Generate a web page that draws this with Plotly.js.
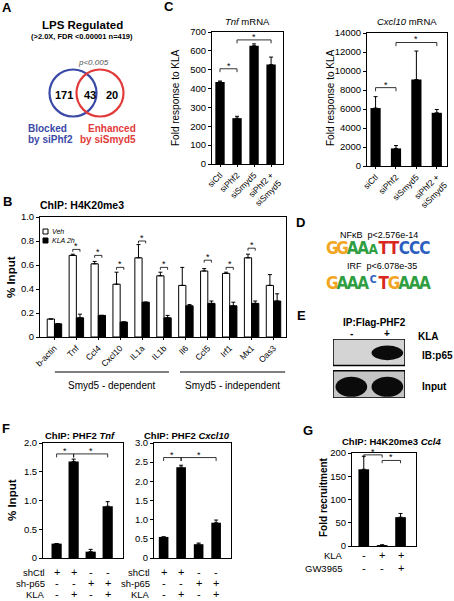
<!DOCTYPE html>
<html><head><meta charset="utf-8">
<script src="https://cdn.plot.ly/plotly-3.0.1.min.js"></script>
<style>html,body{margin:0;padding:0;background:#fff}#chart{width:454px;height:601px}</style>
</head><body><div id="chart"></div>
<script>
// ---------------- DATA ----------------
// Panel A (Venn counts: blocked by siPhf2 only, overlap, enhanced by siSmyd5 only)
const vennCounts = [171, 43, 20];

// Panel C
const cCategories = ['siCtl', 'siPhf2', 'siSmyd5', 'siPhf2 +<br>siSmyd5'];
const tnfMrna = [435, 243, 627, 527];
const tnfMrnaErr = [5, 10, 10, 40];
const tnfSig = [[0, 1, 505], [1, 3, 658]];
const cxcl10Mrna = [6100, 1850, 9100, 5600];
const cxcl10MrnaErr = [1200, 300, 3000, 350];
const cxcl10Sig = [[0, 1, 8250], [1, 3, 13000]];

// Panel B
const bGenes = ['b-actin', 'Tnf', 'Ccl4', 'Cxcl10', 'IL1a', 'IL1b', 'Il6', 'Ccl5', 'Irf1', 'Mx1', 'Oas3'];
const bVeh = [0.15, 0.68, 0.61, 0.44, 0.66, 0.51, 0.43, 0.55, 0.53, 0.66, 0.43];
const bVehErr = [0, 0.01, 0.02, 0.10, 0.11, 0.03, 0.15, 0.02, 0.01, 0.03, 0.09];
const bKla = [0.11, 0.16, 0.18, 0.125, 0.29, 0.16, 0.26, 0.28, 0.26, 0.28, 0.30];
const bKlaErr = [0, 0.03, 0, 0, 0, 0.02, 0.01, 0.02, 0.03, 0.02, 0.06];
const bSigGenes = ['Tnf', 'Ccl4', 'Cxcl10', 'IL1a', 'IL1b', 'Ccl5', 'Irf1', 'Mx1'];
const bSigLevel = [0.73, 0.68, 0.58, 0.80, 0.58, 0.64, 0.58, 0.74];
const bGroups = ['Smyd5 - dependent', 'Smyd5 - independent'];

// Panel D (motif logos)
const nfkbLogo = ['G', 'G', 'A', 'A', 'A', 'T', 'T', 'C', 'C', 'C'];
const nfkbLogoScale = [1, 1, 1, 1, 0.8, 1, 1, 1, 1, 1];
const irfLogo = ['G', 'A', 'A', 'A', 'C', 'T', 'G', 'A', 'A', 'A'];
const irfLogoScale = [1, 1, 1, 1, 0.62, 1, 1, 1, 1, 1];

// Panel E (blot band intensities, lanes: KLA -, +)
const blotLanes = ['-', '+'];
const blotP65 = [0, 1];
const blotInput = [1, 1];

// Panel F
const fShCtl = ['+', '+', '-', '-'];
const fShP65 = ['-', '-', '+', '+'];
const fKla = ['-', '+', '-', '+'];
const fTnf = [0.25, 1.68, 0.11, 0.90];
const fTnfErr = [0, 0.04, 0.04, 0.08];
const fTnfSig = [[0, 1, 1.81], [1, 3, 1.81]];
const fCxcl10 = [0.55, 2.37, 0.36, 0.92];
const fCxcl10Err = [0, 0.05, 0.03, 0.07];
const fCxcl10Sig = [[0, 1, 2.62], [1, 3, 2.62]];

// Panel G
const gKla = ['-', '+', '+'];
const gGw = ['-', '-', '+'];
const gVals = [165, 2, 62];
const gErr = [28, 0.5, 8];
const gSig = [[0, 1, 196], [1, 2, 184]];

// ---------------- HELPERS ----------------
const W = 454, H = 601;
const FONT = 'Liberation Sans, Arial, Helvetica, sans-serif';
const LOGOFONT = 'DejaVu Sans Condensed, Liberation Sans Narrow, DejaVu Sans, sans-serif';
const px = v => v / W;
const py = v => 1 - v / H;
const dom = (a, b) => [a / W, b / W];
const vdom = (top, bottom) => [1 - bottom / H, 1 - top / H];
const idx = arr => arr.map((_, i) => i);

function axisBase(extra) {
  return Object.assign({
    showline: true, mirror: true, linecolor: '#000', linewidth: 1,
    ticks: 'outside', ticklen: 3, tickwidth: 1, tickcolor: '#000',
    showgrid: false, zeroline: false, fixedrange: true,
    exponentformat: 'none', separatethousands: false,
    tickfont: {family: FONT, size: 9.5, color: '#000'}
  }, extra);
}
function errY(arr) {
  return {type: 'data', array: arr, arrayminus: arr.map(() => 0), symmetric: false,
          visible: true, color: '#000', thickness: 1, width: 2};
}
const annotations = [];
const shapes = [];
function txt(x, y, text, size, o) {
  annotations.push(Object.assign({
    x: px(x), y: py(y), xref: 'paper', yref: 'paper', text: text, showarrow: false,
    xanchor: 'center', yanchor: 'middle',
    font: {family: FONT, size: size || 10, color: (o && o.color) || '#000'}
  }, o || {}));
}
function sigMarks(sig, xa, ya, drop, xpos, traces) {
  const xs = [], ys = [];
  sig.forEach(([a, b, h]) => {
    const xa_ = xpos(a, 'a'), xb_ = xpos(b, 'b');
    xs.push(xa_, xa_, xb_, xb_, null);
    ys.push(h - drop, h, h, h - drop, null);
    annotations.push({x: (xa_ + xb_) / 2, y: h, xref: xa, yref: ya, text: '*', showarrow: false,
      xanchor: 'center', yanchor: 'bottom', yshift: -3, borderpad: 0,
      font: {family: FONT, size: 9, color: '#000'}});
  });
  traces.push({type: 'scatter', mode: 'lines', x: xs, y: ys, xaxis: xa, yaxis: ya,
    line: {color: '#000', width: 0.8}, showlegend: false, hoverinfo: 'skip'});
}

const traces = [];

// ---------------- PANEL C ----------------
traces.push({type: 'bar', x: idx(cCategories), y: tnfMrna, width: 0.55, marker: {color: '#000'},
  error_y: errY(tnfMrnaErr), xaxis: 'x', yaxis: 'y', showlegend: false, hoverinfo: 'skip'});
sigMarks(tnfSig, 'x', 'y', 18, i => i, traces);
traces.push({type: 'bar', x: idx(cCategories), y: cxcl10Mrna, width: 0.5, marker: {color: '#000'},
  error_y: errY(cxcl10MrnaErr), xaxis: 'x2', yaxis: 'y2', showlegend: false, hoverinfo: 'skip'});
sigMarks(cxcl10Sig, 'x2', 'y2', 380, i => i, traces);

// ---------------- PANEL B ----------------
const BW = 0.33;
traces.push({type: 'bar', name: 'Veh', x: idx(bGenes), y: bVeh, width: BW, offset: -BW,
  marker: {color: '#fff', line: {color: '#000', width: 1}},
  error_y: errY(bVehErr), xaxis: 'x3', yaxis: 'y3', showlegend: false, hoverinfo: 'skip'});
traces.push({type: 'bar', name: 'KLA 2h', x: idx(bGenes), y: bKla, width: BW, offset: 0,
  marker: {color: '#000', line: {color: '#000', width: 1}},
  error_y: errY(bKlaErr), xaxis: 'x3', yaxis: 'y3', showlegend: false, hoverinfo: 'skip'});
sigMarks(bSigGenes.map((g, k) => [bGenes.indexOf(g), bGenes.indexOf(g), bSigLevel[k]]), 'x3', 'y3', 0.02,
  (i, side) => side === 'a' ? i - BW / 2 : i + BW / 2, traces);

// ---------------- PANEL D (logos) ----------------
const logoColors = {A: '#2f9e40', C: '#2c5fbf', G: '#f2a51f', T: '#d8281e'};
const LOGO_SIZE = 17;
traces.push({type: 'scatter', mode: 'text', x: idx(nfkbLogo), y: nfkbLogo.map(() => 1.58),
  text: nfkbLogo.map(l => '<b>' + l + '</b>'), textposition: 'middle center',
  textfont: {family: LOGOFONT, size: nfkbLogoScale.map(s => s * LOGO_SIZE), color: nfkbLogo.map(l => logoColors[l])},
  xaxis: 'x8', yaxis: 'y8', showlegend: false, hoverinfo: 'skip', cliponaxis: false});
traces.push({type: 'scatter', mode: 'text', x: idx(irfLogo), y: irfLogoScale.map(s => s < 1 ? 0.55 : 0.4),
  text: irfLogo.map(l => '<b>' + l + '</b>'), textposition: 'middle center',
  textfont: {family: LOGOFONT, size: irfLogoScale.map(s => s * LOGO_SIZE), color: irfLogo.map(l => logoColors[l])},
  xaxis: 'x8', yaxis: 'y8', showlegend: false, hoverinfo: 'skip', cliponaxis: false});

// ---------------- PANEL F ----------------
traces.push({type: 'bar', x: idx(fTnf), y: fTnf, width: 0.6, marker: {color: '#000'},
  error_y: errY(fTnfErr), xaxis: 'x4', yaxis: 'y4', showlegend: false, hoverinfo: 'skip'});
sigMarks(fTnfSig, 'x4', 'y4', 0.06, i => i, traces);
traces.push({type: 'bar', x: idx(fCxcl10), y: fCxcl10, width: 0.55, marker: {color: '#000'},
  error_y: errY(fCxcl10Err), xaxis: 'x5', yaxis: 'y5', showlegend: false, hoverinfo: 'skip'});
sigMarks(fCxcl10Sig, 'x5', 'y5', 0.09, i => i, traces);

// ---------------- PANEL G ----------------
traces.push({type: 'bar', x: idx(gVals), y: gVals, width: 0.58, marker: {color: '#000'},
  error_y: errY(gErr), xaxis: 'x6', yaxis: 'y6', showlegend: false, hoverinfo: 'skip'});
sigMarks(gSig, 'x6', 'y6', 6, i => i, traces);

// ---------------- TEXT & SHAPES ----------------
const bold = s => '<b>' + s + '</b>';
// panel letters
[['A', 7, 8], ['C', 169, 7], ['B', 7, 202], ['D', 300, 222], ['E', 301, 315], ['F', 6, 428], ['G', 308, 430]]
  .forEach(([l, x, y]) => txt(x, y, bold(l), 13));

// Panel A
const BLUE = '#3a4aa6', RED = '#e23b3b';
txt(82, 25, bold('LPS Regulated'), 11.5);
txt(82, 37, bold('(>2.0X, FDR <0.00001 n=419)'), 7.5);
txt(93, 62, '<i>p<0.005</i>', 8, {color: '#555'});
shapes.push({type: 'circle', xref: 'paper', yref: 'paper', x0: px(49.5), x1: px(96.5), y0: py(116.5), y1: py(69.5),
  line: {color: BLUE, width: 2.2}});
shapes.push({type: 'circle', xref: 'paper', yref: 'paper', x0: px(76.5), x1: px(123.5), y0: py(116.5), y1: py(69.5),
  line: {color: RED, width: 2.2}});
txt(64, 95, bold(vennCounts[0]), 11);
txt(90, 95, bold(vennCounts[1]), 11);
txt(112, 95, bold(vennCounts[2]), 11);
txt(47, 128, bold('Blocked'), 10, {color: BLUE});
txt(50, 139, bold('by siPhf2'), 10, {color: BLUE});
txt(112, 128, bold('Enhanced'), 10, {color: RED});
txt(108, 139, bold('by siSmyd5'), 10, {color: RED});

// Panel C titles
txt(247, 22, '<i>Tnf</i> mRNA', 9.5);
txt(407, 22, '<i>Cxcl10</i> mRNA', 9.5);
txt(176, 98, 'Fold response to KLA', 10, {textangle: -90});
txt(331, 98, 'Fold response to KLA', 10, {textangle: -90});

// Panel B
txt(82, 205, bold('ChIP: H4K20me3'), 10.5);
txt(11, 277, bold('% Input'), 11.5, {textangle: -90});
shapes.push({type: 'rect', xref: 'paper', yref: 'paper', x0: px(43), x1: px(48), y0: py(234), y1: py(229),
  fillcolor: '#fff', line: {color: '#000', width: 1}});
shapes.push({type: 'rect', xref: 'paper', yref: 'paper', x0: px(43), x1: px(48), y0: py(243), y1: py(238),
  fillcolor: '#000', line: {color: '#000', width: 1}});
txt(51, 231.5, '<i>Veh</i>', 7, {xanchor: 'left', borderpad: 0});
txt(51, 240.5, '<i>KLA 2h</i>', 7, {xanchor: 'left', borderpad: 0});
// group lines under the gene labels
const bGroupSpan = [[0.02, 5.23], [5.73, 10.53]];
bGroups.forEach((g, k) => {
  shapes.push({type: 'line', xref: 'x3', yref: 'paper', x0: bGroupSpan[k][0], x1: bGroupSpan[k][1],
    y0: py(372), y1: py(372), line: {color: '#555', width: 1.5}});
  annotations.push({x: (bGroupSpan[k][0] + bGroupSpan[k][1]) / 2, y: py(385), xref: 'x3', yref: 'paper',
    text: g, showarrow: false, xanchor: 'center', yanchor: 'middle', font: {family: FONT, size: 10, color: '#000'}});
});

// Panel D
txt(379, 235, 'NF\u03BAB  p<2.576e-14', 9);
txt(382, 266, 'IRF  p<6.078e-35', 9);

// Panel E
txt(374, 322, bold('IP:Flag-PHF2'), 10);
blotLanes.forEach((l, i) => annotations.push({x: i, y: py(334), xref: 'x7', yref: 'paper', text: bold(l),
  showarrow: false, yanchor: 'middle', font: {family: FONT, size: 10, color: '#000'}}));
txt(428, 337, bold('KLA'), 10);
txt(420, 355, bold('IB:p65'), 10, {xanchor: 'left'});
txt(420, 386, bold('Input'), 10, {xanchor: 'left'});
shapes.push({type: 'rect', xref: 'x7', yref: 'y7', x0: -0.5, x1: 1.5, y0: 1.1, y1: 2,
  fillcolor: '#d4d4d4', line: {color: '#000', width: 1.5}});
shapes.push({type: 'rect', xref: 'x7', yref: 'y7', x0: -0.5, x1: 1.5, y0: 0, y1: 0.92,
  fillcolor: '#c4c4c4', line: {color: '#000', width: 1.5}});
blotP65.forEach((v, i) => { if (v > 0) shapes.push({type: 'circle', xref: 'x7', yref: 'y7',
  x0: i - 0.43, x1: i + 0.45, y0: 1.28, y1: 1.78, fillcolor: '#0b0b0b', opacity: v, line: {width: 0}}); });
blotInput.forEach((v, i) => { if (v > 0) shapes.push({type: 'circle', xref: 'x7', yref: 'y7',
  x0: i - 0.43, x1: i + 0.45, y0: 0.04, y1: 0.72, fillcolor: '#0b0b0b', opacity: v, line: {width: 0}}); });

// Panel F
txt(80, 435, bold('ChIP: PHF2 <i>Tnf</i>'), 9.5);
txt(187, 435, bold('ChIP: PHF2 <i>Cxcl10</i>'), 9.5);
txt(12, 500, bold('% Input'), 11.5, {textangle: -90});
const fRows = [['shCtl', fShCtl, 572], ['sh-p65', fShP65, 583], ['KLA', fKla, 594]];
[['x4', 47], ['x5', 152]].forEach(([xa, lx]) => {
  fRows.forEach(([lab, vals, y]) => {
    txt(lx, y, lab, 9.5, {xanchor: 'right'});
    vals.forEach((s, i) => annotations.push({x: i, y: py(y), xref: xa, yref: 'paper', text: s, showarrow: false,
      xanchor: 'center', yanchor: 'middle', font: {family: FONT, size: 11, color: '#000'}}));
  });
});

// Panel G
txt(391, 441, bold('ChIP: H4K20me3 <i>Ccl4</i>'), 9.5);
txt(323, 497, bold('Fold recruitment'), 10, {textangle: -90});
[['KLA', gKla, 555], ['GW3965', gGw, 568]].forEach(([lab, vals, y]) => {
  txt(345, y, lab, 9.5, {xanchor: 'right'});
  vals.forEach((s, i) => annotations.push({x: i, y: py(y), xref: 'x6', yref: 'paper', text: s, showarrow: false,
    xanchor: 'center', yanchor: 'middle', font: {family: FONT, size: 11, color: '#000'}}));
});

// ---------------- LAYOUT ----------------
const noX = {showticklabels: false, ticks: ''};
const hidden = {visible: false, fixedrange: true};
const xLabFont = {family: FONT, size: 8.5, color: '#000'};
const layout = {
  width: W, height: H, margin: {l: 0, r: 0, t: 0, b: 0},
  paper_bgcolor: '#fff', plot_bgcolor: 'rgba(0,0,0,0)',
  font: {family: FONT, color: '#000'}, showlegend: false, barmode: 'overlay',
  xaxis: axisBase({domain: dom(212, 283), range: [-0.47, 3.7], anchor: 'y', tickvals: idx(cCategories),
    ticktext: cCategories, tickangle: -45, ticklen: 2, tickfont: xLabFont}),
  yaxis: axisBase({domain: vdom(32, 164), range: [0, 700], dtick: 100, tick0: 0, anchor: 'x'}),
  xaxis2: axisBase({domain: dom(367, 447), range: [-0.42, 3.5], anchor: 'y2', tickvals: idx(cCategories),
    ticktext: cCategories, tickangle: -45, ticklen: 2, tickfont: xLabFont}),
  yaxis2: axisBase({domain: vdom(33, 166), range: [0, 14000], anchor: 'x2',
    tickvals: [0, 2000, 4000, 6000, 8000, 10000, 12000, 14000],
    ticktext: ['0', '2000', '4000', '6000', '8000', '10000', '12000', '14000']}),
  xaxis3: axisBase({domain: dom(40, 286), range: [-0.66, 10.57], anchor: 'y3', tickvals: idx(bGenes),
    ticktext: bGenes, tickangle: -45, ticklen: 2, tickfont: xLabFont}),
  yaxis3: axisBase({domain: vdom(217, 337), range: [0, 1], anchor: 'x3', tickvals: [0, 0.2, 0.4, 0.6, 0.8, 1.0],
    ticktext: ['0', '0.2', '0.4', '0.6', '0.8', '1.0']}),
  xaxis4: axisBase(Object.assign({domain: dom(43, 123), range: [-0.8, 3.9], anchor: 'y4'}, noX)),
  yaxis4: axisBase({domain: vdom(443, 558), range: [0, 2], anchor: 'x4', tickvals: [0, 0.5, 1, 1.5, 2],
    ticktext: ['0', '0.5', '1.0', '1.5', '2.0']}),
  xaxis5: axisBase(Object.assign({domain: dom(154, 231), range: [-0.55, 3.85], anchor: 'y5'}, noX)),
  yaxis5: axisBase({domain: vdom(443, 558), range: [0, 3], anchor: 'x5', tickvals: [0, 0.5, 1, 1.5, 2, 2.5, 3],
    ticktext: ['0', '0.5', '1.0', '1.5', '2.0', '2.5', '3.0']}),
  xaxis6: axisBase(Object.assign({domain: dom(352, 416), range: [-0.64, 2.84], anchor: 'y6'}, noX)),
  yaxis6: axisBase({domain: vdom(453, 546), range: [0, 200], dtick: 50, tick0: 0, anchor: 'x6'}),
  xaxis7: Object.assign({domain: dom(333, 405), range: [-0.5, 1.5], anchor: 'y7'}, hidden),
  yaxis7: Object.assign({domain: vdom(339, 398), range: [0, 2], anchor: 'x7'}, hidden),
  xaxis8: Object.assign({domain: dom(327, 430), range: [-0.5, 9.5], anchor: 'y8'}, hidden),
  yaxis8: Object.assign({domain: vdom(238, 296), range: [0, 2], anchor: 'x8'}, hidden),
  annotations: annotations, shapes: shapes
};

Plotly.newPlot('chart', traces, layout, {staticPlot: true, displayModeBar: false});
</script></body></html>
